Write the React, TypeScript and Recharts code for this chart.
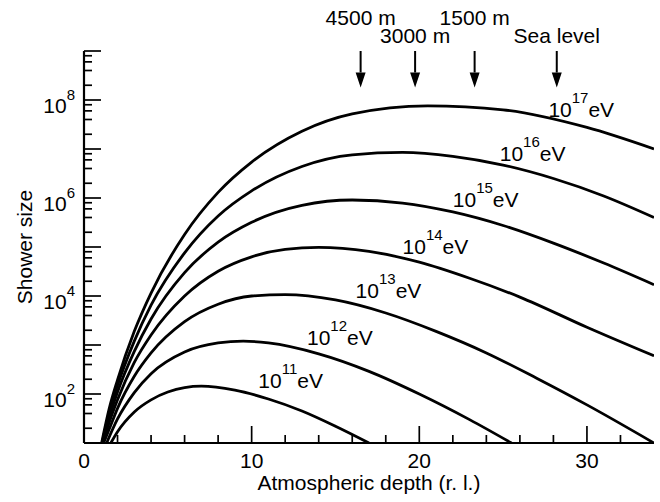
import { LineChart, Line, XAxis, YAxis, ReferenceLine, ReferenceDot } from "recharts";

const FONT = '"Liberation Sans", Arial, Helvetica, sans-serif';
const FS = 21;
const SUP = 15;

// shower size vs depth (radiation lengths)
const s11 = [[1.6, 10], [2, 17], [3, 43], [4, 76], [5, 110], [7, 145], [9, 120], [11, 79], [13, 45], [15, 22], [17, 10]];
const s12 = [[1.35, 10], [2, 31], [3, 107], [4, 260], [6, 720], [8, 1100], [9.5, 1200], [11, 1100], [14, 660], [17, 290], [20, 100], [23, 30], [25.5, 10]];
const s13 = [[1.17, 10], [1.5, 19], [2, 51], [3, 230], [4, 690], [6, 3000], [8, 6800], [10, 1.0e4], [12, 1.07e4], [15, 8300], [18, 4500], [21, 1900], [24, 690], [27, 210], [30, 60], [34, 10]];
const s14 = [[1.12, 10], [1.5, 26], [2, 76], [3, 440], [4, 1600], [6, 1.0e4], [8, 3.2e4], [10, 6.3e4], [12, 8.9e4], [14, 9.8e4], [17, 8.1e4], [20, 4.9e4], [23, 2.3e4], [26, 9500], [30, 2300], [34, 600]];
const s15 = [[1.09, 10], [1.5, 33], [2, 110], [3, 740], [4, 3400], [6, 3.0e4], [8, 1.26e5], [10, 3.2e5], [13, 7.1e5], [16, 9.1e5], [19, 7.9e5], [22, 5.2e5], [25, 2.75e5], [28, 1.2e5], [31, 4.7e4], [34, 1.7e4]];
const s16 = [[1.08, 10], [1.5, 41], [2, 150], [3, 1200], [4, 6500], [6, 7.6e4], [8, 4.3e5], [10, 1.4e6], [13, 4.4e6], [16, 7.6e6], [19, 8.5e6], [22, 7.1e6], [25, 4.7e6], [28, 2.5e6], [31, 1.1e6], [34, 4.0e5]];
const s17 = [[1.05, 10], [1.5, 50], [2, 195], [3, 1900], [4, 1.15e4], [6, 1.8e5], [8, 1.3e6], [10, 5.4e6], [13, 2.3e7], [16, 5.2e7], [20.5, 7.6e7], [25, 6.3e7], [30, 2.75e7], [34, 1.0e7]];

const energies = ["11", "12", "13", "14", "15", "16", "17"];
const series = [s11, s12, s13, s14, s15, s16, s17];
const labelT = [10.4, 13.3, 16.2, 19.0, 22.0, 24.8, 27.7];
const labelN = [130, 1.0e3, 9.1e3, 7.2e4, 6.6e5, 5.8e6, 4.5e7];

const altNames = ["4500 m", "3000 m", "1500 m", "Sea level"];
const altDepth = [16.5, 19.75, 23.3, 28.2];
const altRow = [0, 1, 0, 1];
const ARROW_TIP = 1.8e8;

const X_TICKS = [0, 2, 4, 6, 8, 10, 12, 14, 16, 18, 20, 22, 24, 26, 28, 30, 32];
const Y_TICKS = [
  10, 20, 40, 60, 80,
  100, 200, 400, 600, 800,
  1e3, 2e3, 4e3, 6e3, 8e3,
  1e4, 2e4, 4e4, 6e4, 8e4,
  1e5, 2e5, 4e5, 6e5, 8e5,
  1e6, 2e6, 4e6, 6e6, 8e6,
  1e7, 2e7, 4e7, 6e7, 8e7,
  1e8, 2e8, 4e8, 6e8, 8e8,
  1e9,
];
const Y_LABELED = [2, 4, 6, 8];

const toPts = (a: number[][]) => a.map(([t, n]) => ({ t, n }));

const isDecade = (v: number) => {
  const l = Math.log10(v);
  return Math.abs(l - Math.round(l)) < 1e-6;
};

const TICK = { stroke: "#000", strokeWidth: 1.7 };
const AXIS = { stroke: "#000", strokeWidth: 2.2 };

function BottomTick(p: any) {
  const v = p.payload.value;
  const major = v % 10 === 0;
  return (
    <g>
      <line x1={p.x} x2={p.x} y1={p.y} y2={p.y - (major ? 17 : 8)} {...TICK} />
      {major && (
        <text x={p.x} y={p.y + 25} textAnchor="middle" fontSize={FS} fontFamily={FONT} fill="#000">{v}</text>
      )}
    </g>
  );
}

function TopTick(p: any) {
  const major = p.payload.value % 10 === 0;
  return <line x1={p.x} x2={p.x} y1={p.y} y2={p.y + (major ? 17 : 8)} {...TICK} />;
}

function LeftTick(p: any) {
  const v = p.payload.value;
  const major = isDecade(v);
  const exp = Math.round(Math.log10(v));
  return (
    <g>
      <line x1={p.x} x2={p.x + (major ? 17 : 8)} y1={p.y} y2={p.y} {...TICK} />
      {major && Y_LABELED.includes(exp) && (
        <text x={p.x - 9} y={p.y + 13} textAnchor="end" fontSize={FS} fontFamily={FONT} fill="#000">
          <tspan>10</tspan>
          <tspan dy={-13} fontSize={SUP}>{exp}</tspan>
        </text>
      )}
    </g>
  );
}

function RightTick(p: any) {
  const major = isDecade(p.payload.value);
  return <line x1={p.x} x2={p.x - (major ? 17 : 8)} y1={p.y} y2={p.y} {...TICK} />;
}

function Arrow({ x1, y1, x2, y2, name, row }: any) {
  const head = 15;
  return (
    <g>
      <line x1={x1} y1={y1} x2={x2} y2={y2 - head} stroke="#000" strokeWidth={2} />
      <polygon points={`${x2 - 5},${y2 - head} ${x2 + 5},${y2 - head} ${x2},${y2}`} fill="#000" />
      <text x={x1} y={y1 - (row === 0 ? 26 : 8)} textAnchor="middle" fontSize={FS} fontFamily={FONT} fill="#000">
        {name}
      </text>
    </g>
  );
}

function CurveLabel({ cx, cy, exp }: any) {
  return (
    <text x={cx} y={cy} fontSize={FS} fontFamily={FONT} fill="#000">
      <tspan>10</tspan>
      <tspan dy={-14} fontSize={SUP}>{exp}</tspan>
      <tspan dy={14}>eV</tspan>
    </text>
  );
}

const XTitle = (p: any) => {
  const vb = p.viewBox;
  return (
    <text x={vb.x + vb.width / 2} y={vb.y + 47} textAnchor="middle" fontSize={FS} fontFamily={FONT} fill="#000">
      Atmospheric depth (r. l.)
    </text>
  );
};

const YTitle = (p: any) => {
  const vb = p.viewBox;
  const cx = vb.x + 32;
  const cy = vb.y + vb.height / 2;
  return (
    <text x={cx} y={cy} transform={`rotate(-90 ${cx} ${cy})`} textAnchor="middle" fontSize={FS} fontFamily={FONT} fill="#000">
      Shower size
    </text>
  );
};

export default function App() {
  return (
    <div style={{ position: "absolute", left: 0, top: 0, width: 660, height: 502, background: "#fff" }}>
      <LineChart width={660} height={502} margin={{ top: 51, right: 6, bottom: 0, left: 0 }}>
        <XAxis type="number" dataKey="t" domain={[0, 34]} ticks={X_TICKS} interval={0} allowDataOverflow
          height={59} tickSize={0} tickMargin={0} tickLine={false} axisLine={AXIS} tick={BottomTick} label={XTitle} />
        <XAxis xAxisId="top" orientation="top" type="number" domain={[0, 34]} ticks={X_TICKS} interval={0} allowDataOverflow
          height={0} tickSize={0} tickMargin={0} tickLine={false} axisLine={AXIS} tick={TopTick} />
        <YAxis scale="log" type="number" domain={[10, 1e9]} ticks={Y_TICKS} interval={0} allowDataOverflow
          width={84} tickSize={0} tickMargin={0} tickLine={false} axisLine={AXIS} tick={LeftTick} label={YTitle} />
        <YAxis yAxisId="right" orientation="right" scale="log" type="number" domain={[10, 1e9]} ticks={Y_TICKS} interval={0} allowDataOverflow
          width={0} tickSize={0} tickMargin={0} tickLine={false} axisLine={AXIS} tick={RightTick} />

        {series.map((s, i) => (
          <Line key={energies[i]} data={toPts(s)} dataKey="n" type="monotone" stroke="#000" strokeWidth={2.8}
            dot={false} activeDot={false} isAnimationActive={false} />
        ))}

        {energies.map((e, i) => (
          <ReferenceDot key={"l" + e} x={labelT[i]} y={labelN[i]} r={0} ifOverflow="visible"
            shape={(p: any) => <CurveLabel cx={p.cx} cy={p.cy} exp={e} />} />
        ))}

        {altNames.map((name, i) => (
          <ReferenceLine key={name} ifOverflow="visible"
            segment={[{ x: altDepth[i], y: 1e9 }, { x: altDepth[i], y: ARROW_TIP }]}
            shape={(p: any) => <Arrow {...p} name={name} row={altRow[i]} />} />
        ))}
      </LineChart>
    </div>
  );
}
